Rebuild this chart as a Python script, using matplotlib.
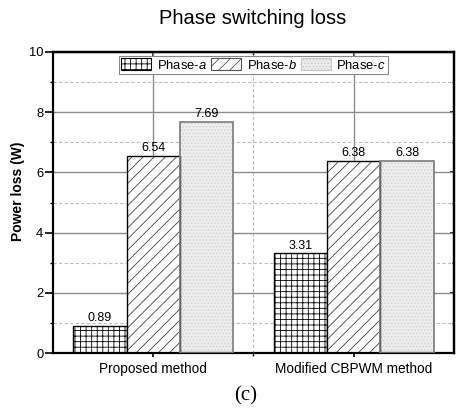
import matplotlib
matplotlib.use("Agg")
import matplotlib.pyplot as plt
import numpy as np
from matplotlib.ticker import MultipleLocator, FixedLocator
from matplotlib.patches import Patch

plt.rcParams['font.family'] = ['Liberation Sans', 'DejaVu Sans']
plt.rcParams['mathtext.fontset'] = 'custom'
plt.rcParams['mathtext.rm'] = 'Liberation Sans'
plt.rcParams['mathtext.it'] = 'Liberation Sans:italic'
plt.rcParams['hatch.linewidth'] = 0.6

# Data
methods = ["Proposed method", "Modified CBPWM method"]
phases = ["Phase-$\\mathit{a}$", "Phase-$\\mathit{b}$", "Phase-$\\mathit{c}$"]
phase_a = [0.89, 3.31]
phase_b = [6.54, 6.38]
phase_c = [7.69, 6.38]
y_ticks = [0, 2, 4, 6, 8, 10]

W, H = 462, 409
fig = plt.figure(figsize=(W / 100, H / 100), dpi=100)
ax = fig.add_axes([53 / W, 1 - 353 / H, 401 / W, 301 / H])

x = np.arange(1, len(methods) + 1)
w = 0.8 / 3

# Grid behind bars
ax.set_axisbelow(True)
ax.yaxis.set_major_locator(FixedLocator(y_ticks))
ax.yaxis.set_minor_locator(MultipleLocator(1))
ax.xaxis.set_major_locator(FixedLocator(list(x)))
ax.xaxis.set_minor_locator(FixedLocator([1.5]))
ax.grid(which='major', color='#8c8c8c', linewidth=1.0, linestyle='-')
ax.grid(which='minor', color='#bdbdbd', linewidth=0.8, linestyle=(0, (3, 2)))

ax.bar(x - w, phase_a, w, facecolor='white', edgecolor='black',
       hatch='+++', linewidth=1.0, zorder=2)
ax.bar(x, phase_b, w, facecolor='white', edgecolor='#444444',
       hatch='///', linewidth=0, zorder=2)
ax.bar(x, phase_b, w, facecolor='none', edgecolor='black', linewidth=1.0, zorder=3)
ax.bar(x + w, phase_c, w, facecolor='#ececec', edgecolor='#d2d2d2',
       hatch='.....', linewidth=0, zorder=2)
ax.bar(x + w, phase_c, w, facecolor='none', edgecolor='#7a7a7a',
       linewidth=1.2, zorder=3)

# Value labels
for xs, vals in [(x - w, phase_a), (x, phase_b), (x + w, phase_c)]:
    for xi, v in zip(xs, vals):
        ax.text(xi, v + 0.06, f"{v:.2f}", ha='center', va='bottom', fontsize=9)

ax.set_xlim(0.5, 2.5)
ax.set_ylim(0, 10)
ax.set_xticklabels(methods, fontsize=9.8)
ax.tick_params(axis='y', labelsize=9.3, pad=1.5)
ax.tick_params(axis='y', which='major', direction='out', length=5.5, width=1.2)
ax.tick_params(axis='y', which='minor', direction='out', length=2.5, width=1.0)
ax.tick_params(axis='x', which='major', direction='out', length=3, width=1.2, pad=3.5)
ax.tick_params(axis='x', which='minor', direction='out', length=2, width=1.0)

for s in ax.spines.values():
    s.set_linewidth(1.6)
    s.set_color('black')

# Mirrored inward ticks on top and right
top = ax.secondary_xaxis('top')
top.set_xticks(list(x))
top.xaxis.set_minor_locator(FixedLocator([1.5]))
top.tick_params(which='major', direction='in', length=3, width=1.2, labeltop=False)
top.tick_params(which='minor', direction='in', length=1.8, width=1.0)
top.spines['top'].set_linewidth(1.6)
right = ax.secondary_yaxis('right')
right.set_yticks(y_ticks)
right.yaxis.set_minor_locator(MultipleLocator(1))
right.tick_params(which='major', direction='in', length=3, width=1.2, labelright=False)
right.tick_params(which='minor', direction='in', length=1.8, width=1.0)
right.spines['right'].set_linewidth(1.6)

fig.text(18 / W, 1 - 191 / H, "Power loss (W)", rotation=90, ha='center', va='center',
         fontsize=10, fontweight='bold')

handles = [
    Patch(facecolor='white', edgecolor='black', hatch='+++', linewidth=0.8),
    Patch(facecolor='white', edgecolor='#555555', hatch='///', linewidth=0.8),
    Patch(facecolor='#ececec', edgecolor='#c8c8c8', hatch='.....', linewidth=0.8),
]
leg = ax.legend(handles, phases, loc='upper center', bbox_to_anchor=(0.5, 1.0),
                ncol=3, fontsize=9.4, frameon=True, fancybox=False,
                edgecolor='#888888', framealpha=1, borderpad=0.18,
                handlelength=2.3, handleheight=1.0, handletextpad=0.45,
                columnspacing=0.3, borderaxespad=0.3)
leg.get_frame().set_linewidth(0.8)

fig.text(253 / W, 1 - 19 / H, "Phase switching loss", ha='center', va='center', fontsize=14.5)
fig.text(246 / W, 1 - 396 / H, "(c)", ha='center', va='center', fontsize=15,
         family=['Liberation Serif', 'DejaVu Serif'])

fig.savefig("out.png", dpi=100)
